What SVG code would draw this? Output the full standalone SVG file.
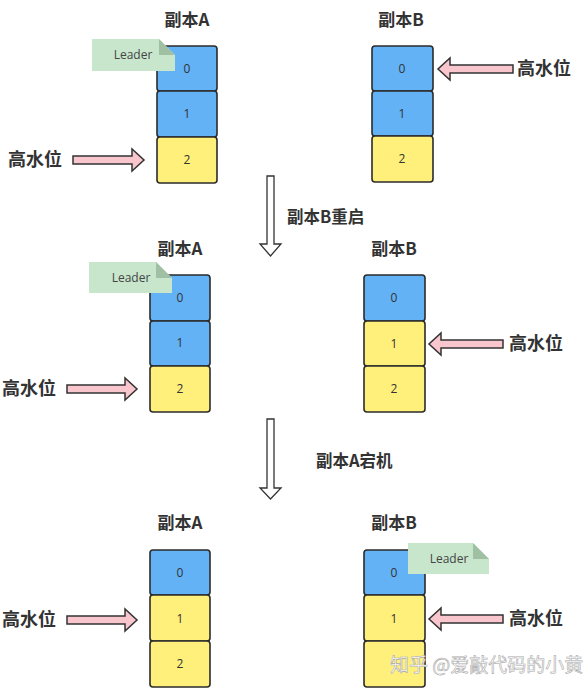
<svg xmlns="http://www.w3.org/2000/svg" width="584" height="691" viewBox="0 0 584 691">
<style>
.b{fill:#62B2F5;stroke:#2b2b2b;stroke-width:1.6}
.y{fill:#FFF07C;stroke:#2b2b2b;stroke-width:1.6}
.n{font-family:"Open Sans","Liberation Sans",sans-serif;font-size:12px;fill:#333;text-anchor:middle}
.t{font-family:"Noto Sans CJK SC","Noto Sans",sans-serif;font-weight:bold;font-size:17px;fill:#333;text-anchor:middle}
.h{font-family:"Noto Sans CJK SC","Noto Sans",sans-serif;font-weight:bold;font-size:18px;fill:#333}
.pa{fill:#F8C6CC;stroke:#333;stroke-width:1.5}
.da{fill:#fff;stroke:#333;stroke-width:1.3}
.note{fill:#C8E6CC}
.fold{fill:#9FC0A2}
.lt{font-family:"Open Sans","Liberation Sans",sans-serif;font-size:12px;fill:#444;text-anchor:middle}
.wm{font-family:"Noto Sans CJK SC",sans-serif;font-size:19px;fill:#fff;stroke:#aaa;stroke-width:0.6}
</style>
<g id="connectors">
<path class="da" d="M267,176 H274 V244 H281 L270.5,256 L260,244 H267 Z"/>
<path class="da" d="M267,419 H274 V488 H281 L270.5,499 L260,488 H267 Z"/>
<text class="h" x="287" y="223" style="font-size:16.5px">副本B重启</text>
<text class="h" x="316" y="467" style="font-size:16.5px">副本A宕机</text>
</g>
<g id="s1-replicaA">
<text class="t" x="187" y="26">副本A</text>
<rect class="b" x="157" y="46" width="60" height="45" rx="3"/>
<rect class="b" x="157" y="91" width="60" height="46" rx="3"/>
<rect class="y" x="157" y="137" width="60" height="46" rx="3"/>
<text class="n" x="187" y="73">0</text>
<text class="n" x="187" y="118">1</text>
<text class="n" x="187" y="164">2</text>
<polygon class="note" points="92,39 159,39 175,55 175,71 92,71"/>
<polygon class="fold" points="159,39 159,55 175,55"/>
<text class="lt" x="133" y="59">Leader</text>
</g>
<g id="s1-hwA">
<path class="pa" d="M73,156 H132 V149 L144,160 L132,171 V164 H73 Z"/>
<text class="h" x="8" y="166">高水位</text>
</g>
<g id="s1-replicaB">
<text class="t" x="401" y="26">副本B</text>
<rect class="b" x="372" y="46" width="61" height="45" rx="3"/>
<rect class="b" x="372" y="91" width="61" height="45" rx="3"/>
<rect class="y" x="372" y="136" width="61" height="46" rx="3"/>
<text class="n" x="402" y="73">0</text>
<text class="n" x="402" y="118">1</text>
<text class="n" x="402" y="163">2</text>
</g>
<g id="s1-hwB">
<path class="pa" d="M513,65 H450 V58 L438,69 L450,80 V73 H513 Z"/>
<text class="h" x="517" y="75">高水位</text>
</g>
<g id="s2-replicaA">
<text class="t" x="180" y="255">副本A</text>
<rect class="b" x="150" y="275" width="60" height="46" rx="3"/>
<rect class="b" x="150" y="321" width="60" height="45" rx="3"/>
<rect class="y" x="150" y="366" width="60" height="46" rx="3"/>
<text class="n" x="180" y="302">0</text>
<text class="n" x="180" y="347">1</text>
<text class="n" x="180" y="393">2</text>
<polygon class="note" points="89,262 156,262 172,278 172,293 89,293"/>
<polygon class="fold" points="156,262 156,278 172,278"/>
<text class="lt" x="131" y="282">Leader</text>
</g>
<g id="s2-hwA">
<path class="pa" d="M67,385 H125 V378 L137,389 L125,400 V393 H67 Z"/>
<text class="h" x="2" y="395">高水位</text>
</g>
<g id="s2-replicaB">
<text class="t" x="394" y="255">副本B</text>
<rect class="b" x="364" y="275" width="61" height="46" rx="3"/>
<rect class="y" x="364" y="321" width="61" height="45" rx="3"/>
<rect class="y" x="364" y="366" width="61" height="46" rx="3"/>
<text class="n" x="394" y="302">0</text>
<text class="n" x="394" y="348">1</text>
<text class="n" x="394" y="393">2</text>
</g>
<g id="s2-hwB">
<path class="pa" d="M503,340 H441 V333 L429,344 L441,355 V348 H503 Z"/>
<text class="h" x="509" y="350">高水位</text>
</g>
<g id="s3-replicaA">
<text class="t" x="180" y="529">副本A</text>
<rect class="b" x="150" y="550" width="60" height="45" rx="3"/>
<rect class="y" x="150" y="595" width="60" height="46" rx="3"/>
<rect class="y" x="150" y="641" width="60" height="46" rx="3"/>
<text class="n" x="180" y="577">0</text>
<text class="n" x="180" y="623">1</text>
<text class="n" x="180" y="668">2</text>
</g>
<g id="s3-hwA">
<path class="pa" d="M67,616 H125 V609 L137,620 L125,631 V624 H67 Z"/>
<text class="h" x="2" y="626">高水位</text>
</g>
<g id="s3-replicaB">
<text class="t" x="394" y="529">副本B</text>
<rect class="b" x="364" y="550" width="61" height="45" rx="3"/>
<rect class="y" x="364" y="595" width="61" height="46" rx="3"/>
<rect class="y" x="364" y="641" width="61" height="46" rx="3"/>
<text class="n" x="394" y="577">0</text>
<text class="n" x="394" y="623">1</text>
<polygon class="note" points="408,543 473,543 489,559 489,574 408,574"/>
<polygon class="fold" points="473,543 473,559 489,559"/>
<text class="lt" x="449" y="563">Leader</text>
</g>
<g id="s3-hwB">
<path class="pa" d="M503,615 H441 V608 L429,619 L441,630 V623 H503 Z"/>
<text class="h" x="509" y="625">高水位</text>
</g>
<text class="wm" x="390" y="672">知乎 @爱敲代码的小黄</text>
</svg>
